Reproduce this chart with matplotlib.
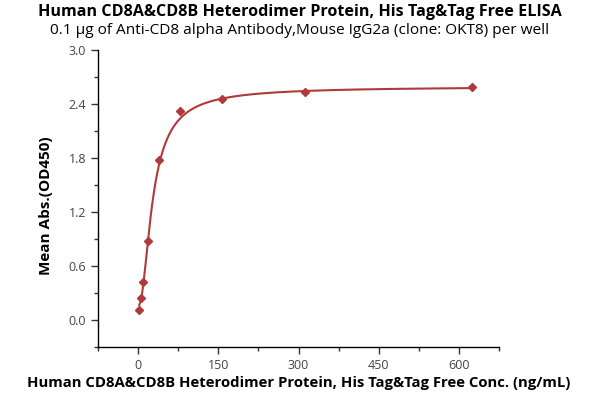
import numpy as np
import matplotlib
matplotlib.use('Agg')
import matplotlib.pyplot as plt
from matplotlib.ticker import MultipleLocator

# concentration (ng/mL) and mean OD450
conc = [2.44, 4.88, 9.77, 19.53, 39.06, 78.125, 156.25, 312.5, 625]
od450 = [0.11, 0.25, 0.42, 0.88, 1.78, 2.32, 2.46, 2.53, 2.59]

# fitted 5PL curve: bottom, top, ec50, hill, asym
fit_bottom = 0.156
fit_top = 2.595
fit_ec50 = 21.2
fit_hill = 2.29
fit_asym = 0.63

title = 'Human CD8A&CD8B Heterodimer Protein, His Tag&Tag Free ELISA'
subtitle = '0.1 \u00b5g of Anti-CD8 alpha Antibody,Mouse IgG2a (clone: OKT8) per well'
xlabel = 'Human CD8A&CD8B Heterodimer Protein, His Tag&Tag Free Conc. (ng/mL)'
ylabel = 'Mean Abs.(OD450)'

color = '#b03a3a'

xs = np.linspace(min(conc), max(conc), 800)
ys = fit_top + (fit_bottom - fit_top) / (1.0 + (xs / fit_ec50) ** fit_hill) ** fit_asym

plt.rcParams['font.family'] = ['Open Sans', 'DejaVu Sans']

fig = plt.figure(figsize=(6, 4), dpi=100)
ax = fig.add_axes([0.163, 0.1325, 0.669, 0.7425])

ax.plot(xs, ys, color=color, lw=1.5)
ax.plot(conc, od450, 'D', color=color, ms=4.5, mec=color)

ax.set_xlim(-75, 675)
ax.set_ylim(-0.3, 3.0)
ax.xaxis.set_minor_locator(MultipleLocator(75))
ax.yaxis.set_minor_locator(MultipleLocator(0.3))
ax.set_xticks([0, 150, 300, 450, 600])
ax.set_yticks([0.0, 0.6, 1.2, 1.8, 2.4, 3.0])
ax.set_yticklabels(['0.0', '0.6', '1.2', '1.8', '2.4', '3.0'])

ax.spines['top'].set_visible(False)
ax.spines['right'].set_visible(False)
for s in ('left', 'bottom'):
    ax.spines[s].set_linewidth(1.0)
ax.tick_params(which='major', length=5, width=1, labelsize=9, colors='#333333', labelcolor='#444444')
ax.tick_params(which='minor', length=3, width=1, colors='#333333')

ax.set_xlabel(xlabel, fontsize=10.7, fontweight='bold', labelpad=3)
ax.set_ylabel(ylabel, fontsize=11, fontweight='bold')
ax.yaxis.set_label_coords(-0.112, 0.475)

fig.text(0.5, 0.97, title, ha='center', va='center', fontsize=11.6, fontweight='bold')
fig.text(0.5, 0.925, subtitle, ha='center', va='center', fontsize=11.1)

fig.savefig('out.png', dpi=100)
